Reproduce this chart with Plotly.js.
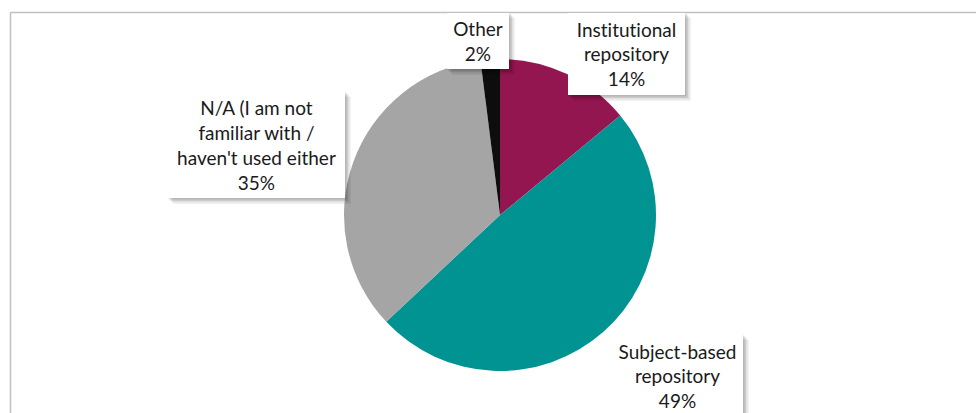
<!DOCTYPE html>
<html>
<head>
<meta charset="utf-8">
<script src="https://cdn.plot.ly/plotly-3.0.1.min.js"></script>
<style>
  html, body { margin: 0; padding: 0; background: #fff; }
  #chart { width: 976px; height: 413px; }
  #chart text { font-variant-ligatures: none; font-feature-settings: "liga" 0, "clig" 0; }
</style>
</head>
<body>
<div id="chart"></div>
<script>
// ---- data ----
var categories = ["Institutional repository", "Subject-based repository", "N/A (I am not familiar with / haven't used either", "Other"];
var values = [14, 49, 35, 2];
var labelLines = [
  ["Institutional", "repository"],
  ["Subject-based", "repository"],
  ["N/A (I am not", "familiar with /", "haven't used either"],
  ["Other"]
];
var colors = ["#941650", "#009391", "#A5A5A5", "#0D0D0D"];

// ---- layout helpers (pixel -> paper) ----
var W = 976, H = 413;
function px(x) { return x / W; }
function py(y) { return (H - y) / H; }

var cx = 500, cy = 215, r = 156;

// label boxes: [centerX, centerY, width, height]
var boxes = [
  [626.5, 54, 117, 82],
  [677.5, 376, 131, 82],
  [256.5, 145, 177, 106],
  [478, 41, 62, 56]
];

var shapes = [
  // chart frame (top and left edges visible)
  { type: "line", xref: "paper", yref: "paper", x0: px(10.5), x1: px(976), y0: py(12.5), y1: py(12.5), line: { color: "#C0C0C0", width: 1.5 } },
  { type: "line", xref: "paper", yref: "paper", x0: px(10.5), x1: px(10.5), y0: py(12.5), y1: py(413), line: { color: "#C0C0C0", width: 1.5 } }
];

var annotations = [];
var textFont = { family: "Lato, 'Open Sans', sans-serif", size: 19, color: "#1A1A1A" };
for (var i = 0; i < categories.length; i++) {
  var b = boxes[i];
  var x0 = b[0] - b[2] / 2, x1 = b[0] + b[2] / 2, y0 = b[1] - b[3] / 2, y1 = b[1] + b[3] / 2;
  // soft drop shadow layers
  [[6, 0.05], [4.5, 0.07], [3, 0.09], [1.5, 0.10]].forEach(function (s) {
    shapes.push({
      type: "rect", xref: "paper", yref: "paper", layer: "above",
      x0: px(x0 + s[0] - 1), x1: px(x1 + s[0]), y0: py(y1 + s[0]), y1: py(y0 + s[0] - 1),
      fillcolor: "rgba(0,0,0," + s[1] + ")", line: { width: 0 }
    });
  });
  annotations.push({
    xref: "paper", yref: "paper", x: px(b[0]), y: py(b[1]),
    xanchor: "center", yanchor: "middle",
    width: b[2], height: b[3], showarrow: false,
    text: labelLines[i].join("<br>") + "<br>" + values[i] + "%",
    font: textFont, align: "center", valign: "middle",
    bgcolor: "#FFFFFF", borderpad: 0, borderwidth: 0
  });
}

var trace = {
  type: "pie",
  labels: categories,
  values: values,
  sort: false,
  direction: "clockwise",
  rotation: 0,
  marker: { colors: colors, line: { width: 0 } },
  textinfo: "none",
  hoverinfo: "label+percent",
  showlegend: false,
  domain: { x: [px(cx - r), px(cx + r)], y: [py(cy + r), py(cy - r)] }
};

var layout = {
  width: W, height: H,
  margin: { l: 0, r: 0, t: 0, b: 0, pad: 0 },
  paper_bgcolor: "#FFFFFF",
  plot_bgcolor: "#FFFFFF",
  showlegend: false,
  annotations: annotations,
  shapes: shapes
};

Plotly.newPlot("chart", [trace], layout, { displayModeBar: false, staticPlot: true });
</script>
</body>
</html>
